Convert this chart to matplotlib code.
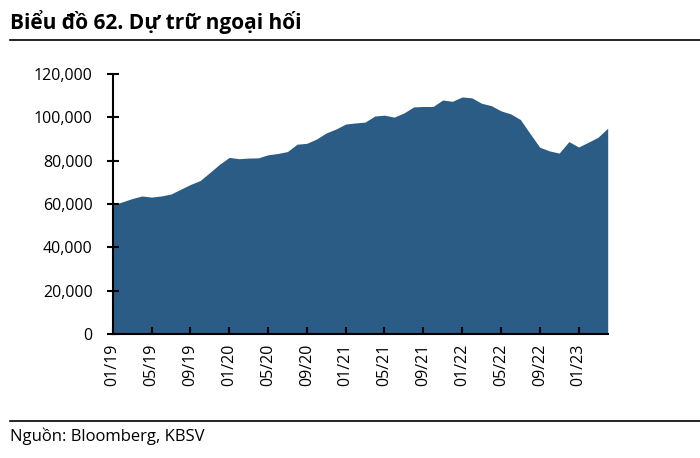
import matplotlib.pyplot as plt
import numpy as np

# Dữ liệu: dự trữ ngoại hối theo tháng, 01/2019 - 04/2023
months = ['01/19', '02/19', '03/19', '04/19', '05/19', '06/19', '07/19', '08/19', '09/19', '10/19', '11/19', '12/19',
          '01/20', '02/20', '03/20', '04/20', '05/20', '06/20', '07/20', '08/20', '09/20', '10/20', '11/20', '12/20',
          '01/21', '02/21', '03/21', '04/21', '05/21', '06/21', '07/21', '08/21', '09/21', '10/21', '11/21', '12/21',
          '01/22', '02/22', '03/22', '04/22', '05/22', '06/22', '07/22', '08/22', '09/22', '10/22', '11/22', '12/22',
          '01/23', '02/23', '03/23', '04/23']
reserves = [59500, 61000, 62500, 63700, 63200, 63700, 64600, 66800, 69000, 70800, 74500, 78300,
            81500, 80900, 81200, 81300, 82700, 83300, 84200, 87600, 88000, 90000, 92800, 94600,
            96900, 97400, 97800, 100600, 101000, 100100, 102000, 104800, 105000, 105000, 108000, 107400,
            109400, 109000, 106500, 105400, 103000, 101600, 99000, 92500, 86200, 84500, 83500, 88800,
            86300, 88500, 90800, 95000]
yticks = [0, 20000, 40000, 60000, 80000, 100000, 120000]

plt.rcParams['font.family'] = ['Open Sans', 'DejaVu Sans']

fig = plt.figure(figsize=(7, 4.58), dpi=100)
ax = fig.add_axes([112.7 / 700, 1 - 334 / 458, (607.7 - 112.7) / 700, (334 - 74) / 458])

x = np.arange(len(reserves))
ax.fill_between(x, reserves, 0, color='#2B5C85', linewidth=0)

ax.set_xlim(0, len(reserves) - 1)
ax.set_ylim(0, 120000)
ax.set_yticks(yticks)
ax.set_yticklabels([f'{v:,}' for v in yticks], fontsize=11.5)
ax.set_xticks(x[::4])
ax.set_xticklabels(months[::4], rotation=90, fontsize=11.5)

for s in ['top', 'right']:
    ax.spines[s].set_visible(False)
for s in ['left', 'bottom']:
    ax.spines[s].set_linewidth(1.5)
    ax.spines[s].set_zorder(5)
ax.tick_params(axis='y', direction='inout', length=9, width=1.5, pad=10)
ax.tick_params(axis='x', direction='in', length=5, width=1.5, pad=7)

# Tiêu đề và nguồn
fig.text(10 / 700, 1 - 22 / 458, 'Biểu đồ 62. Dự trữ ngoại hối', fontsize=15, fontweight='bold',
         va='center', ha='left')
fig.add_artist(plt.Line2D([10 / 700, 1], [1 - 40 / 458, 1 - 40 / 458], color='black', linewidth=1.2))
fig.add_artist(plt.Line2D([10 / 700, 1], [1 - 421 / 458, 1 - 421 / 458], color='black', linewidth=1.2))
fig.text(10 / 700, 1 - 436 / 458, 'Nguồn: Bloomberg, KBSV', fontsize=12, va='center', ha='left')

plt.savefig('out.png', dpi=100)
